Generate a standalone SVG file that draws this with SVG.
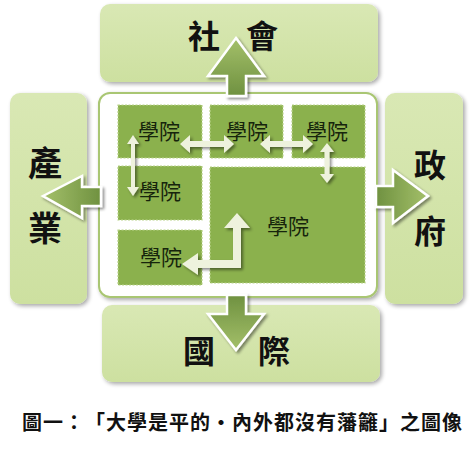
<svg xmlns="http://www.w3.org/2000/svg" width="474" height="449" viewBox="0 0 474 449">
<defs>
<filter id="sh" x="-10%" y="-10%" width="125%" height="125%">
<feGaussianBlur in="SourceAlpha" stdDeviation="2"/>
<feOffset dx="2" dy="2" result="b"/>
<feComponentTransfer><feFuncA type="linear" slope="0.35"/></feComponentTransfer>
<feMerge><feMergeNode/><feMergeNode in="SourceGraphic"/></feMerge>
</filter>
<filter id="sh2" x="-20%" y="-20%" width="150%" height="150%">
<feGaussianBlur in="SourceAlpha" stdDeviation="1.5"/>
<feOffset dx="2" dy="2" result="b"/>
<feComponentTransfer><feFuncA type="linear" slope="0.45"/></feComponentTransfer>
<feMerge><feMergeNode/><feMergeNode in="SourceGraphic"/></feMerge>
</filter>
<linearGradient id="gOut" x1="0" y1="0" x2="0" y2="1">
<stop offset="0" stop-color="#d9e8b4"/>
<stop offset="1" stop-color="#cde0a0"/>
</linearGradient>
<linearGradient id="gUp" x1="0" y1="0" x2="0" y2="1">
<stop offset="0" stop-color="#a4c06a"/>
<stop offset="1" stop-color="#6f9140"/>
</linearGradient>
<linearGradient id="gDown" x1="0" y1="1" x2="0" y2="0">
<stop offset="0" stop-color="#a4c06a"/>
<stop offset="1" stop-color="#6f9140"/>
</linearGradient>
<linearGradient id="gLeft" x1="0" y1="0" x2="1" y2="0">
<stop offset="0" stop-color="#a4c06a"/>
<stop offset="1" stop-color="#6f9140"/>
</linearGradient>
<linearGradient id="gRight" x1="1" y1="0" x2="0" y2="0">
<stop offset="0" stop-color="#a4c06a"/>
<stop offset="1" stop-color="#6f9140"/>
</linearGradient>
</defs>
<style>
.outer{fill:url(#gOut);filter:url(#sh);}
.big{font-family:"Noto Sans CJK TC","Noto Sans CJK SC",sans-serif;font-weight:bold;fill:#111;}
.cell{fill:#8bb14d;stroke:#b9d38a;stroke-width:1.2;stroke-dasharray:2 1.5;}
.lbl{font-family:"Noto Sans CJK TC","Noto Sans CJK SC",sans-serif;font-size:21px;fill:#16240c;text-anchor:middle;}
.bigarrow{stroke:#ffffff;stroke-width:2.5;stroke-linejoin:miter;filter:url(#sh2);}
.inarrow{fill:#eef2dd;filter:url(#sh2);}
.cap{font-family:"Noto Sans CJK TC","Noto Sans CJK SC",sans-serif;font-size:20px;font-weight:bold;fill:#111;}
</style>
<rect width="474" height="449" fill="#ffffff"/>

<g id="node-society">
<rect class="outer" x="100" y="4" width="278" height="78" rx="10"/>
<text class="big" font-size="32" x="188 246" y="48">社會</text>
</g>
<g id="node-industry">
<rect class="outer" x="10" y="93" width="77" height="211" rx="10"/>
<text class="big" font-size="34" x="28" y="176">產</text>
<text class="big" font-size="34" x="28" y="241">業</text>
</g>
<g id="node-government">
<rect class="outer" x="385" y="93" width="78" height="211" rx="10"/>
<text class="big" font-size="32" x="414" y="177">政</text>
<text class="big" font-size="32" x="414" y="243">府</text>
</g>
<g id="node-international">
<rect class="outer" x="102" y="305" width="278" height="77" rx="10"/>
<text class="big" font-size="32" x="183 258" y="363">國際</text>
</g>

<g id="node-university">
<rect x="99" y="93" width="278" height="204" rx="11" fill="#ffffff" stroke="#a9c673" stroke-width="2" filter="url(#sh)"/>
<g id="cell-1"><rect class="cell" x="118" y="105" width="84" height="53"/><text class="lbl" x="159" y="139">學院</text></g>
<g id="cell-2"><rect class="cell" x="210" y="105" width="73" height="53"/><text class="lbl" x="247" y="139">學院</text></g>
<g id="cell-3"><rect class="cell" x="292" y="105" width="73" height="53"/><text class="lbl" x="327" y="139">學院</text></g>
<g id="cell-4"><rect class="cell" x="118" y="166" width="84" height="54"/><text class="lbl" x="160" y="199">學院</text></g>
<g id="cell-5"><rect class="cell" x="210" y="167" width="155" height="116"/><text class="lbl" x="288" y="234">學院</text></g>
<g id="cell-6"><rect class="cell" x="118" y="230" width="84" height="55"/><text class="lbl" x="161" y="265">學院</text></g>
</g>

<g id="connectors">
<polygon class="bigarrow" fill="url(#gUp)" points="236,38 264,76 246,76 246,96 227,96 227,76 208,76"/>
<polygon class="bigarrow" fill="url(#gDown)" points="236,350 264,314 246,314 246,295 227,295 227,314 208,314"/>
<polygon class="bigarrow" fill="url(#gLeft)" points="43,196 82,176 82,187 101,187 101,206 82,206 82,218"/>
<polygon class="bigarrow" fill="url(#gRight)" points="428,196 393,170 393,186 376,186 376,207 393,207 393,223"/>

<polygon class="inarrow" points="133,135 139,144 135,144 135,187 139,187 133,196 127,187 131,187 131,144 127,144"/>
<polygon class="inarrow" points="180,144 190,135 190,141 224,141 224,135 234,144 224,153 224,147 190,147 190,153"/>
<polygon class="inarrow" points="260,144 270,135 270,141 303,141 303,135 313,144 303,153 303,147 270,147 270,153"/>
<polygon class="inarrow" points="327,143 334,152 329.5,152 329.5,174 334,174 327,183 320,174 324.5,174 324.5,152 320,152"/>
<polygon class="inarrow" points="237,213 250,228 241,228 241,268 198,268 198,275 182,264 198,253 198,260 233,260 233,228 224,228"/>
</g>

<text class="cap" x="22 43 64 85 106 127 148 169 190 211 232 253 274 295 316 337 358 379 400 421 442" y="430">圖一：「大學是平的‧內外都沒有藩籬」之圖像</text>
</svg>
